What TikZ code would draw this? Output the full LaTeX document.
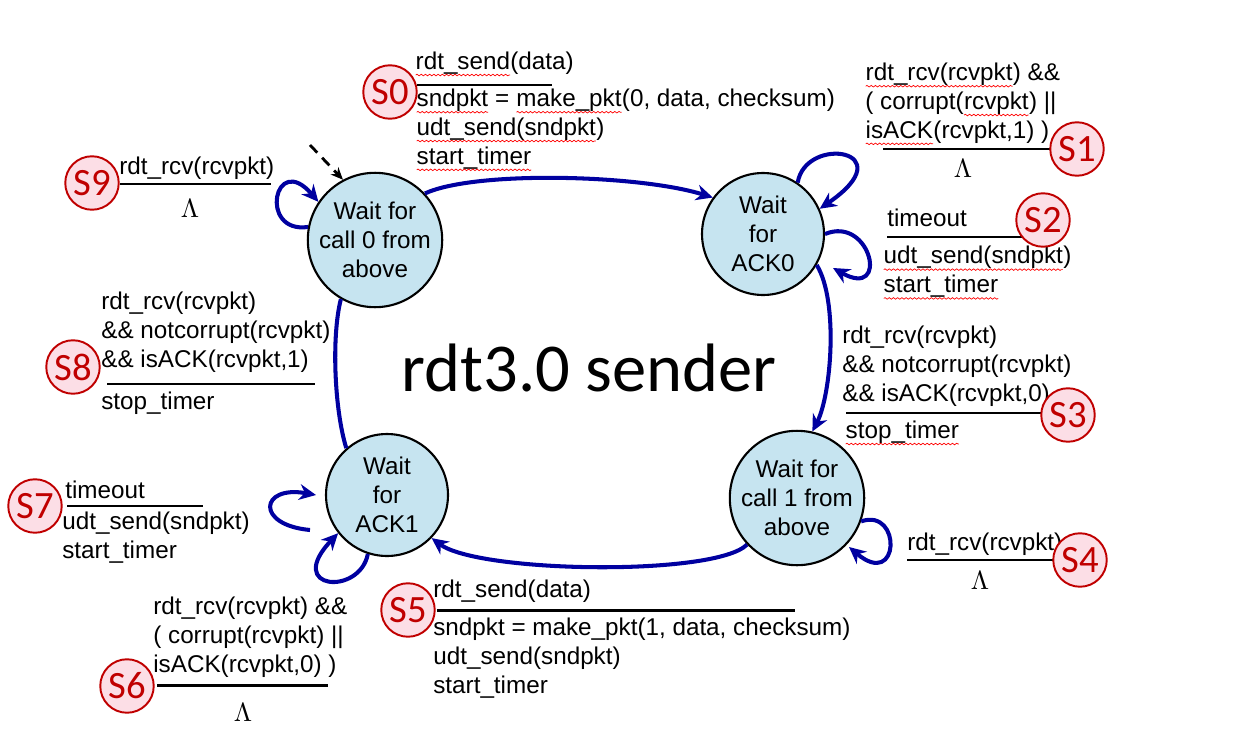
\documentclass[tikz,border=0pt]{standalone}
\usepackage{fontspec}
\setmainfont{Liberation Sans}
\newfontfamily\calib{Carlito}
\usepackage{tikz}
\usetikzlibrary{arrows.meta,decorations.pathmorphing}
\usepackage{xcolor}
\definecolor{stateblue}{RGB}{198,228,240}
\definecolor{arcblue}{RGB}{0,0,160}
\definecolor{spred}{RGB}{192,0,0}
\definecolor{sppink}{RGB}{252,222,230}
\newcommand{\spl}[1]{\tikz[baseline=(w.base)]{\node[inner sep=0pt,outer sep=0pt] (w) {#1};\draw[red,line width=0.4pt,decorate,decoration={snake,amplitude=0.45pt,segment length=2.4pt}] ([yshift=-3.2pt]w.base west) -- ([yshift=-3.2pt]w.base east);}}

\begin{document}
\begin{tikzpicture}[x=0.02cm,y=-0.02cm,
  state/.style={circle,draw,line width=1.2pt,fill=stateblue,minimum size=2.44cm,inner sep=0pt,align=center,font=\fontsize{13.8}{16.4}\selectfont},
  lbl/.style={anchor=west,inner sep=0pt,align=left,font=\fontsize{13.8}{16.4}\selectfont},
  lam/.style={inner sep=0pt,scale=1.5},
  bar/.style={line width=1.7pt},
  slab/.style={circle,draw=spred,fill=sppink,line width=1.1pt,minimum size=1.07cm,inner sep=0pt,text=spred,font=\calib\fontsize{22}{22}\selectfont},
  trans/.style={arcblue,line width=2.3pt,-{Stealth[length=9.5pt,width=9pt]}},
  loopline/.style={arcblue,line width=2.3pt},
  initarr/.style={black,line width=1.6pt,dash pattern=on 6pt off 4pt,-{Stealth[length=7pt,width=6pt]}}]
\useasboundingbox (0,0) rectangle (1257,750);

\node[state] (c0) at (375,240) {Wait for\\call 0 from\\above};
\node[state] (a0) at (763,234) {Wait\\for\\ACK0};
\node[state] (a1) at (387,495) {Wait\\for\\ACK1};
\node[state] (c1) at (797,498) {Wait for\\call 1 from\\above};
\node[font=\calib\fontsize{39}{39}\selectfont] (title) at (589,368) {rdt3.0 sender};

\coordinate (init) at (310,145);
\coordinate (a0e) at (833,268);
\coordinate (c1e) at (849,547);
\coordinate (a1p) at (310,530);
\coordinate (a1q) at (316,495);

\draw[initarr] (init) -- (c0.118);
\draw[trans] (c0.43) .. controls +(50,-23) and +(-74,-23) .. (a0.144);
\draw[trans] (a0.-30) .. controls +(22,36) and +(19,-37) .. (c1.77);
\draw[trans] (c1.223) .. controls +(-32,32) and +(47,35) .. (a1.316);
\draw[loopline] (a1.131) .. controls +(-12,-39) and +(-9.5,37) .. (c0.240);

\draw[trans] (c0.169) .. controls +(-50,7) and +(-44,-51) .. (c0.146);
\draw[trans] (a0.56) .. controls +(8,-48) and +(86,-59) .. (a0.24);
\draw[trans] (a0.0) .. controls +(46,-19) and +(57,32) .. (a0e);
\draw[trans] (c1.-20) .. controls +(41,-14) and +(51,43) .. (c1e);
\draw[trans] (a1p) .. controls (255,525) and (260,485) .. (a1q);
\draw[trans] (a1.-108) .. controls +(-8,42) and +(-54,57) .. (a1.218);

\node[lbl] (t0) at (415,64) {\spl{rdt\_send}(data)};
\node[lbl] (t0b) at (416,130) {\spl{sndpkt} = \spl{make\_pkt}(0, data, checksum)\\\spl{udt\_send(sndpkt})\\\spl{start\_timer}};
\draw[bar] (417,85) -- (552,85);

\node[lbl] (t1) at (865,104) {\spl{rdt\_rcv(rcvpkt}) \&\&\\( corrupt(\spl{rcvpkt}) ||\\\spl{isACK}(rcvpkt,1) )};
\draw[bar] (883,149) -- (1055,149);
\node[lam] (l1) at (963,168) {$\Lambda$};

\node[lbl] (t2) at (887,218) {timeout};
\draw[bar] (887,237) -- (1022,237);
\node[lbl] (t2b) at (883,273) {\spl{udt\_send(sndpkt})\\\spl{start\_timer}};

\node[lbl] (t3) at (842,366) {rdt\_rcv(rcvpkt)\\\&\& notcorrupt(rcvpkt)\\\&\& isACK(rcvpkt,0)};
\draw[bar] (846,413) -- (1042,413);
\node[lbl] (t3b) at (845,433) {\spl{stop\_timer}};

\node[lbl] (t4) at (907,544) {rdt\_rcv(rcvpkt)};
\draw[bar] (907,560) -- (1055,560);
\node[lam] (l4) at (980,580) {$\Lambda$};

\node[lbl] (t5) at (433,591) {rdt\_send(data)};
\draw[bar] (437,610) -- (795,610);
\node[lbl] (t5b) at (433,658) {sndpkt = make\_pkt(1, data, checksum)\\udt\_send(sndpkt)\\start\_timer};

\node[lbl] (t6) at (153,637) {rdt\_rcv(rcvpkt) \&\&\\( corrupt(rcvpkt) ||\\isACK(rcvpkt,0) )};
\draw[bar] (157,685) -- (328,685);
\node[lam] (l6) at (243,712) {$\Lambda$};

\node[lbl] (t7) at (65,490) {timeout};
\draw[bar] (67,506) -- (203,506);
\node[lbl] (t7b) at (62,538) {udt\_send(sndpkt)\\start\_timer};

\node[lbl] (t8) at (101,332) {rdt\_rcv(rcvpkt)\\\&\& notcorrupt(rcvpkt)\\\&\& isACK(rcvpkt,1)};
\draw[bar] (107,384) -- (315,384);
\node[lbl] (t8b) at (101,403) {stop\_timer};

\node[lbl] (t9) at (119,168) {rdt\_rcv(rcvpkt)};
\draw[bar] (120,184) -- (271,184);
\node[lam] (l9) at (190,208) {$\Lambda$};

\node[slab] (s0) at (390,92) {S0};
\node[slab] (s1) at (1077,149) {S1};
\node[slab] (s2) at (1043,220) {S2};
\node[slab] (s3) at (1068,415) {S3};
\node[slab] (s4) at (1080,560) {S4};
\node[slab] (s5) at (408,610) {S5};
\node[slab] (s6) at (127,686) {S6};
\node[slab] (s7) at (35,506) {S7};
\node[slab] (s8) at (73,367) {S8};
\node[slab] (s9) at (92,183) {S9};
\end{tikzpicture}
\end{document}
